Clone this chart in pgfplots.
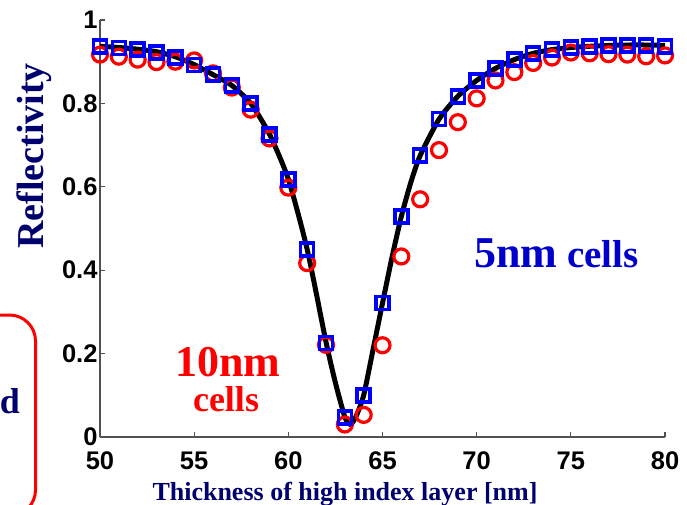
\documentclass[border=0pt]{standalone}
\usepackage{fontspec}
\setmainfont{Liberation Serif}
\newfontfamily\arial{Liberation Sans}
\usepackage{xcolor}
\usepackage{pgfplots}
\pgfplotsset{compat=1.18}

\definecolor{navy}{RGB}{0,0,110}
\definecolor{txtblue}{RGB}{0,0,205}
\definecolor{axgray}{RGB}{80,80,80}

% black curve (reference calculation)
\pgfplotstableread{
x y
50 0.937
51 0.934
52 0.930
53 0.924
54 0.912
55 0.893
56 0.869
57 0.843
58 0.800
59 0.726
60 0.618
61 0.450
62 0.228
62.5 0.130
63 0.048
63.3 0.030
63.6 0.050
64 0.100
64.5 0.210
65 0.321
65.5 0.430
66 0.529
66.5 0.610
67 0.675
68 0.762
69 0.817
70 0.855
71 0.884
72 0.905
73 0.920
74 0.929
75 0.934
76 0.937
77 0.939
78 0.940
79 0.940
80 0.939
}\curve

% 5nm cells (blue squares)
\pgfplotstableread{
x y
50 0.937
51 0.933
52 0.929
53 0.922
54 0.910
55 0.892
56 0.869
57 0.843
58 0.800
59 0.725
60 0.618
61 0.450
62 0.226
63 0.047
64 0.100
65 0.321
66 0.529
67 0.675
68 0.762
69 0.817
70 0.855
71 0.884
72 0.905
73 0.920
74 0.929
75 0.934
76 0.937
77 0.939
78 0.939
79 0.939
80 0.937
}\fivenm

% 10nm cells (red circles)
\pgfplotstableread{
x y
50 0.917
51 0.912
52 0.905
53 0.899
54 0.900
55 0.903
56 0.872
57 0.838
58 0.785
59 0.716
60 0.598
61 0.417
62 0.221
63 0.030
64 0.053
65 0.220
66 0.433
67 0.570
68 0.688
69 0.755
70 0.812
71 0.855
72 0.875
73 0.897
74 0.910
75 0.922
76 0.920
77 0.918
78 0.917
79 0.913
80 0.915
}\tennm

\begin{document}
\begin{tikzpicture}
\begin{axis}[
    at={(100pt,67pt)}, anchor=south west,
    scale only axis,
    width=565pt, height=417pt,
    xmin=50, xmax=80, ymin=0, ymax=1,
    axis lines=left,
    axis line style={-, draw=axgray, line width=1.5pt},
    xtick={50,55,...,80},
    ytick={0,0.2,0.4,0.6,0.8,1},
    tick align=inside,
    major tick length=5pt,
    tick style={draw=axgray, line width=1.2pt},
    /pgf/number format/assume math mode=true,
    ticklabel style={font=\arial\bfseries\fontsize{25.5}{26}\selectfont},
    xticklabel style={yshift=-11pt},
    yticklabel style={xshift=1pt},
    clip=false,
]
\addplot[black, line width=5pt, smooth, tension=0.4] table[x=x,y=y] {\curve};
\addplot[only marks, red, mark=o, mark size=7.5pt, line width=3.2pt] table[x=x,y=y] {\tennm};
\addplot[only marks, blue, mark=square, mark size=6.5pt, line width=3.5pt] table[x=x,y=y] {\fivenm};
\end{axis}

\node[anchor=base, font=\bfseries\fontsize{26}{28}\selectfont, text=navy, inner sep=0pt]
  at (345pt,4pt) {Thickness of high index layer [nm]};
\node[anchor=base, rotate=90, font=\bfseries\fontsize{38}{40}\selectfont, text=navy, inner sep=0pt]
  at (43pt,348pt) {Reflectivity};

\node[anchor=base, font=\bfseries\fontsize{44}{46}\selectfont, text=red, inner sep=0pt]
  at (228pt,127.5pt) {10nm};
\node[anchor=base, font=\bfseries\fontsize{36}{38}\selectfont, text=red, inner sep=0pt]
  at (226pt,92.5pt) {cells};
\node[anchor=base west, font=\bfseries\fontsize{44}{46}\selectfont, text=txtblue, inner sep=0pt]
  at (474pt,237pt) {5nm};
\node[anchor=base west, font=\bfseries\fontsize{39}{41}\selectfont, text=txtblue, inner sep=0pt]
  at (567pt,237pt) {cells};

\draw[red, line width=3pt, rounded corners=26pt] (-40pt,189pt) rectangle (35.5pt,-12pt);
\node[anchor=base east, font=\bfseries\fontsize{36}{38}\selectfont, text=navy, inner sep=0pt]
  at (20pt,91pt) {d};

\pgfresetboundingbox
\path[use as bounding box] (0pt,0pt) rectangle (687pt,504pt);
\end{tikzpicture}
\end{document}
